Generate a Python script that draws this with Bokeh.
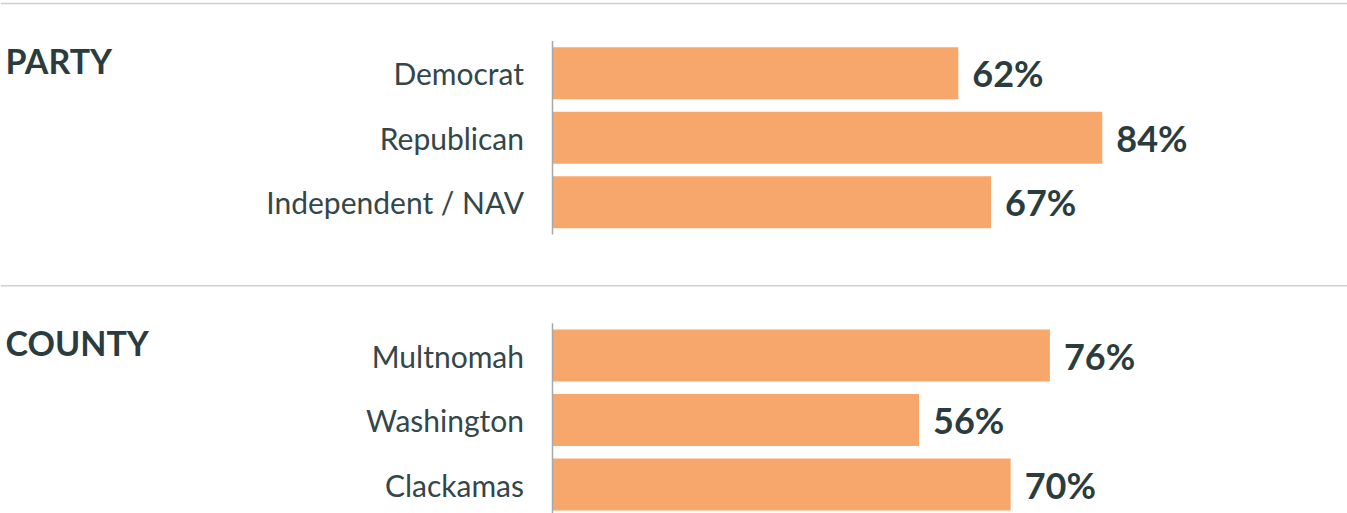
from bokeh.plotting import figure
from bokeh.models import Range1d
from bokeh.embed import file_html
from bokeh.resources import INLINE
from bokeh.core.properties import value

# ---- data ----
section_titles = ["PARTY", "COUNTY"]
party_labels = ["Democrat", "Republican", "Independent / NAV"]
party_values = [62, 84, 67]
county_labels = ["Multnomah", "Washington", "Clackamas"]
county_values = [76, 56, 70]

sections = [
    (section_titles[0], party_labels, party_values),
    (section_titles[1], county_labels, county_values),
]

# ---- layout constants ----
W, H = 1347, 513
PX_PER_PCT = 6.545
ZERO_PX = 552.0
ROW_PX = 64.5
FIRST_ROW_PX = 72.7
SECTION_ROWS = 4.377
BAR_H = 52.0 / ROW_PX
TITLE_SHIFT = -12.7 / ROW_PX

BAR_COLOR = "#F7A76C"
TEXT_COLOR = "#2B3C3F"
LABEL_COLOR = "#33464A"
AXIS_COLOR = "#A8A8A8"
DIVIDER_COLOR = "#CFCFCF"

x0 = -ZERO_PX / PX_PER_PCT
x1 = x0 + W / PX_PER_PCT
ytop = -FIRST_ROW_PX / ROW_PX
ybot = ytop + H / ROW_PX

p = figure(width=W, height=H, x_range=Range1d(x0, x1), y_range=Range1d(ybot, ytop),
           output_backend="svg", toolbar_location=None,
           min_border=0, min_border_left=0, min_border_right=0,
           min_border_top=0, min_border_bottom=0)
p.axis.visible = False
p.grid.visible = False
p.outline_line_color = None
p.background_fill_color = "white"
p.border_fill_color = "white"

for i, (title, labels, vals) in enumerate(sections):
    off = i * SECTION_ROWS
    rows = [off + k for k in range(len(labels))]
    # divider
    div = off + (3.0 - FIRST_ROW_PX) / ROW_PX
    p.segment(x0=[x0], x1=[x1], y0=[div], y1=[div], line_color=DIVIDER_COLOR, line_width=1.5)
    # bars
    p.hbar(y=rows, left=0, right=vals, height=BAR_H, fill_color=BAR_COLOR, line_color=None)
    # axis line
    p.segment(x0=[0], x1=[0], y0=[off - 0.5], y1=[off + len(labels) - 0.5],
              line_color=AXIS_COLOR, line_width=1.5)
    # category labels
    p.text(x=[0] * len(labels), y=rows, text=labels, x_offset=-28.5,
           text_align="right", text_baseline="middle",
           text_font=value("Lato"), text_font_size="30px", text_color=LABEL_COLOR)
    # value labels
    p.text(x=vals, y=rows, text=[f"{v}%" for v in vals], x_offset=14,
           text_align="left", text_baseline="middle",
           text_font=value("Lato"), text_font_style="bold", text_font_size="36px",
           text_color=TEXT_COLOR)
    # section title
    p.text(x=[x0], y=[off + TITLE_SHIFT], text=[title], x_offset=5,
           text_align="left", text_baseline="middle",
           text_font=value("Lato"), text_font_style="bold", text_font_size="34px",
           text_color=TEXT_COLOR)

open("out.html", "w").write(file_html(p, INLINE))
